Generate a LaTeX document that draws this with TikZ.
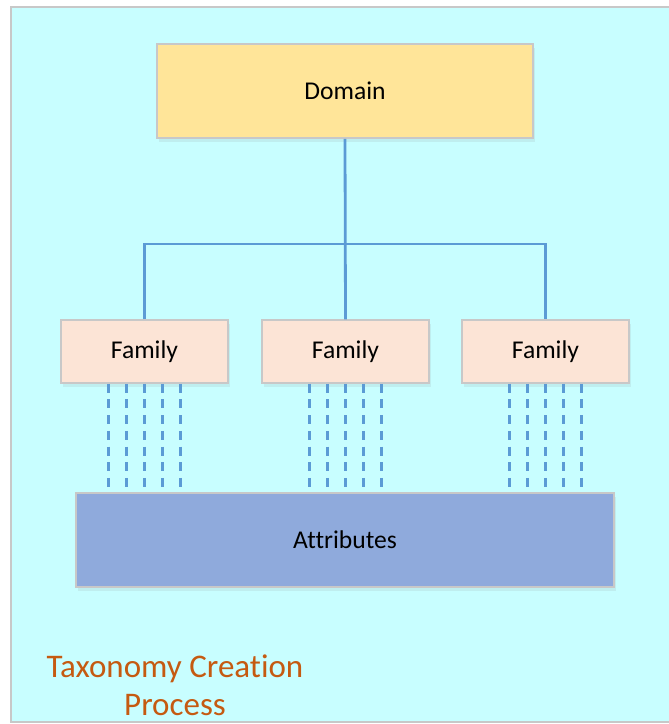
\documentclass[tikz,border=0pt]{standalone}
\usepackage{fontspec}
\setmainfont{Carlito}[Ligatures=NoCommon]
\usetikzlibrary{shadows}

\definecolor{panelfill}{RGB}{200,254,255}
\definecolor{framegray}{RGB}{200,200,200}
\definecolor{domainfill}{RGB}{255,229,153}
\definecolor{familyfill}{RGB}{252,228,214}
\definecolor{attrfill}{RGB}{143,170,220}
\definecolor{linkblue}{RGB}{91,155,213}
\definecolor{titleorange}{RGB}{197,90,17}

\tikzset{
  box/.style={draw=framegray, line width=1.5pt, inner sep=0pt,
    font=\fontsize{25.6}{30}\selectfont, text=black,
    drop shadow={opacity=0.12, shadow xshift=2pt, shadow yshift=-4pt}},
  domainbox/.style={box, fill=domainfill, minimum width=376pt, minimum height=94pt},
  familybox/.style={box, fill=familyfill, minimum width=167pt, minimum height=63pt},
  attrbox/.style={box, fill=attrfill, minimum width=538pt, minimum height=94pt},
  tree/.style={draw=linkblue, line width=2.8pt},
  feed/.style={draw=linkblue, line width=2.6pt, dash pattern=on 9pt off 6.7pt},
}

\begin{document}
\begin{tikzpicture}[x=1pt, y=-1pt]
  \useasboundingbox (0,0) rectangle (669,724);

  % panel
  \fill[white] (0,0) rectangle (669,724);
  \draw[framegray, line width=2pt, fill=panelfill] (11,7) rectangle (675,722);

  % nodes
  \node[domainbox] (dom) at (345,91) {Domain};
  \node[familybox] (f1) at (144.5,351.5) {Family};
  \node[familybox] (f2) at (345.5,351.5) {Family};
  \node[familybox] (f3) at (545.5,351.5) {Family};
  \node[attrbox] (attr) at (345,540) {Attributes};

  % hierarchy connectors
  \coordinate (bus) at (345,244);
  \draw[tree] (dom.south) -- (f2.north);
  \draw[tree] (f1.north) |- (bus) -| (f3.north);

  % attribute feeds below each family
  \foreach \f in {f1,f2,f3}{
    \foreach \dx in {-36,-18,0,18,36}{
      \draw[feed] ([xshift=\dx pt]\f.south) -- ([xshift=\dx pt]\f.south |- attr.north);
    }
  }

  % caption
  \node[text=titleorange, align=center, font=\fontsize{33}{38}\selectfont]
    (caption) at (175,685) {Taxonomy Creation\\Process};
\end{tikzpicture}
\end{document}
